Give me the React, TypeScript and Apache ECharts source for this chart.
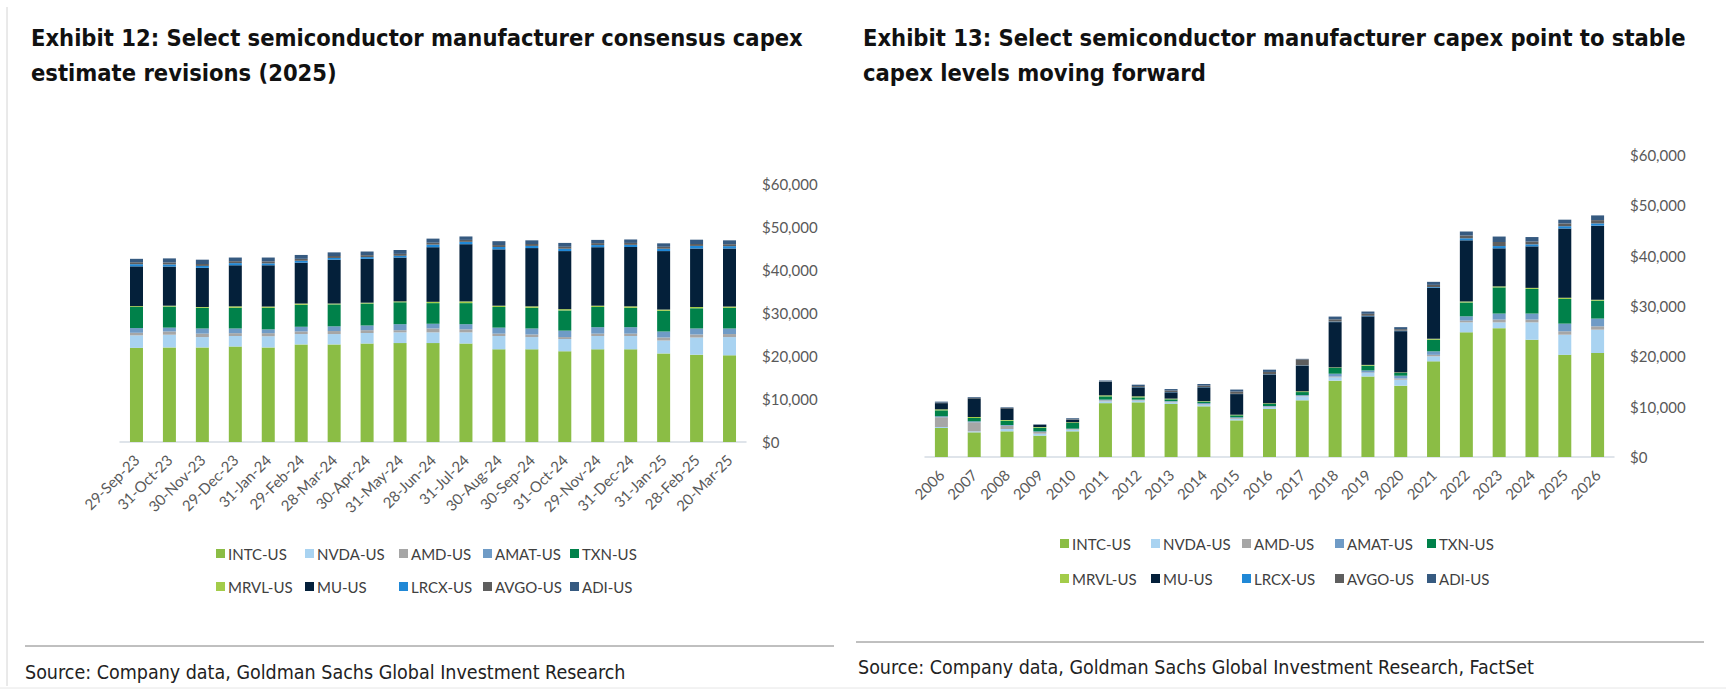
import React, { useEffect, useRef } from 'react';
import * as echarts from 'echarts';

// companies and colours, stacked bottom to top
const companies = ['INTC-US', 'NVDA-US', 'AMD-US', 'AMAT-US', 'TXN-US', 'MRVL-US', 'MU-US', 'LRCX-US', 'AVGO-US', 'ADI-US'];
const companyColors = ['#8BBD45', '#A9D3F1', '#A6A6A6', '#6F9BC6', '#00814A', '#A3CC4A', '#04203A', '#2088D6', '#5E5E5E', '#365A80'];

// y axis ticks ($m)
const valueTicks = [0, 10000, 20000, 30000, 40000, 50000, 60000];

// Exhibit 12: consensus 2025 capex estimate by revision date
const revisionDates = ['29-Sep-23', '31-Oct-23', '30-Nov-23', '29-Dec-23', '31-Jan-24', '29-Feb-24', '28-Mar-24', '30-Apr-24', '31-May-24', '28-Jun-24', '31-Jul-24', '30-Aug-24', '30-Sep-24', '31-Oct-24', '29-Nov-24', '31-Dec-24', '31-Jan-25', '28-Feb-25', '20-Mar-25'];
const revIntc = [21900, 22000, 22000, 22200, 22000, 22700, 22700, 22900, 23000, 23000, 22900, 21550, 21550, 21100, 21550, 21550, 20600, 20300, 20150];
const revNvda = [2900, 2950, 2400, 2450, 2600, 2400, 2400, 2450, 2500, 2500, 2600, 3100, 2850, 2850, 3100, 3100, 3000, 4000, 4250];
const revAmd = [600, 750, 800, 650, 700, 600, 700, 650, 500, 900, 700, 550, 600, 450, 550, 550, 700, 700, 700];
const revAmat = [1100, 900, 1200, 1100, 900, 1100, 1100, 1100, 1400, 1100, 1200, 1400, 1400, 1500, 1500, 1500, 1400, 1400, 1300];
const revTxn = [4900, 4900, 4800, 4800, 5000, 5100, 5100, 5100, 5100, 4800, 4900, 4800, 4800, 4700, 4700, 4500, 4800, 4700, 4800];
const revMrvl = [200, 200, 200, 350, 300, 300, 200, 200, 200, 300, 400, 300, 350, 300, 300, 350, 300, 300, 300];
const revMu = [9250, 9100, 9100, 9550, 9600, 9500, 10200, 10200, 10200, 12700, 13300, 13100, 13550, 13500, 13600, 13800, 13600, 13600, 13500];
const revLrcx = [500, 500, 450, 500, 450, 450, 400, 400, 400, 600, 550, 550, 500, 550, 500, 500, 550, 600, 550];
const revAvgo = [450, 450, 450, 450, 450, 450, 450, 450, 450, 450, 450, 450, 450, 450, 450, 450, 450, 450, 450];
const revAdi = [800, 950, 1000, 850, 900, 900, 850, 850, 900, 950, 800, 900, 850, 900, 750, 800, 800, 1000, 900];

// Exhibit 13: capex by year
const years = ['2006', '2007', '2008', '2009', '2010', '2011', '2012', '2013', '2014', '2015', '2016', '2017', '2018', '2019', '2020', '2021', '2022', '2023', '2024', '2025', '2026'];
const yrIntc = [5760, 4900, 5100, 4240, 5100, 10700, 10860, 10530, 10070, 7280, 9540, 11260, 15170, 16000, 14170, 19000, 24770, 25600, 23300, 20300, 20660];
const yrNvda = [200, 200, 460, 400, 330, 360, 340, 330, 330, 320, 330, 790, 660, 700, 1190, 1000, 1980, 1150, 3450, 4000, 4640];
const yrAmd = [1940, 1800, 640, 330, 130, 200, 100, 140, 100, 150, 130, 100, 170, 100, 240, 300, 350, 550, 550, 670, 660];
const yrAmat = [200, 200, 160, 130, 70, 140, 100, 100, 200, 150, 130, 150, 550, 400, 550, 700, 850, 1200, 1200, 1530, 1540];
const yrTxn = [1170, 650, 840, 730, 1120, 650, 450, 360, 300, 380, 400, 600, 1150, 950, 550, 2300, 2750, 5200, 4900, 4900, 3560];
const yrMrvl = [200, 200, 150, 130, 150, 200, 200, 140, 100, 120, 130, 150, 100, 150, 100, 200, 200, 200, 200, 250, 200];
const yrMu = [1230, 3700, 2320, 400, 500, 2650, 1790, 1250, 2740, 4100, 5740, 5100, 9000, 9650, 8200, 10100, 12150, 7560, 8250, 13750, 14700];
const yrLrcx = [0, 0, 0, 0, 0, 50, 50, 50, 50, 50, 50, 50, 100, 100, 100, 150, 400, 450, 400, 450, 450];
const yrAvgo = [100, 100, 80, 50, 100, 100, 200, 300, 300, 450, 450, 1200, 450, 400, 300, 450, 550, 800, 550, 550, 650];
const yrAdi = [200, 150, 120, 90, 200, 150, 280, 300, 310, 400, 450, 100, 550, 450, 400, 600, 800, 1090, 900, 750, 940];

const revisionValues = [revIntc, revNvda, revAmd, revAmat, revTxn, revMrvl, revMu, revLrcx, revAvgo, revAdi];
const yearValues = [yrIntc, yrNvda, yrAmd, yrAmat, yrTxn, yrMrvl, yrMu, yrLrcx, yrAvgo, yrAdi];

const narrow = '"DejaVu Sans Condensed", "Liberation Sans Narrow", sans-serif';
const labelFont = 'Lato, "Liberation Sans", sans-serif';

const money = (v: number) => '$' + v.toLocaleString('en-US');

function stackSeries(values: number[][], axis: number, stack: string): echarts.BarSeriesOption[] {
  return companies.map((name, i) => ({
    name,
    type: 'bar',
    stack,
    xAxisIndex: axis,
    yAxisIndex: axis,
    barWidth: 13,
    data: values[i],
    itemStyle: { color: companyColors[i] },
  }));
}

// one legend per entry so the columns line up like the Excel legend
function legendGrid(columns: number[], rows: number[]) {
  return companies.map((name, i) => ({
    data: [name],
    left: columns[i % 5],
    top: rows[Math.floor(i / 5)],
    icon: 'rect',
    itemWidth: 9,
    itemHeight: 9,
    itemGap: 0,
    padding: 0,
    selectedMode: false,
    textStyle: { fontFamily: labelFont, fontSize: 15, color: '#404040', padding: [0, 0, 0, -2] },
  }));
}

function xAxisFor(data: string[], grid: number) {
  return {
    type: 'category',
    gridIndex: grid,
    data,
    axisLine: { lineStyle: { color: '#D5DCE4', width: 1.5 } },
    axisTick: { show: false },
    axisLabel: { interval: 0, rotate: 45, margin: 15, fontFamily: labelFont, fontSize: 15, color: '#595959' },
  };
}

function yAxisFor(grid: number, margin: number) {
  return {
    type: 'value',
    gridIndex: grid,
    position: 'right',
    min: valueTicks[0],
    max: valueTicks[valueTicks.length - 1],
    interval: valueTicks[1] - valueTicks[0],
    splitLine: { show: false },
    axisLine: { show: false },
    axisTick: { show: false },
    axisLabel: { margin, align: 'left', fontFamily: labelFont, fontSize: 15, color: '#595959', formatter: money },
  };
}

const App: React.FC = () => {
  const chartRef = useRef<HTMLDivElement>(null);

  useEffect(() => {
    if (!chartRef.current) return;
    const chart = echarts.init(chartRef.current, undefined, { renderer: 'svg' });

    const titleStyle = { fontFamily: narrow, fontWeight: 'bold' as const, fontSize: 23.5, lineHeight: 35, color: '#111' };
    const sourceStyle = { fontFamily: narrow, fontSize: 19.5, fill: '#222', verticalAlign: 'middle' as const };

    chart.setOption({
      animation: false,
      backgroundColor: '#fff',
      title: [
        { text: 'Exhibit 12: Select semiconductor manufacturer consensus capex\nestimate revisions (2025)', left: 26, top: 15, textStyle: titleStyle },
        { text: 'Exhibit 13: Select semiconductor manufacturer capex point to stable\ncapex levels moving forward', left: 858, top: 15, textStyle: titleStyle },
      ],
      legend: [
        ...legendGrid([216, 305, 399, 483, 570], [546, 579]),
        ...legendGrid([1060, 1151, 1242, 1335, 1427], [536, 571]),
      ],
      grid: [
        { left: 120, right: 980, top: 184, bottom: 254 },
        { left: 925, right: 112, top: 155, bottom: 239 },
      ],
      xAxis: [xAxisFor(revisionDates, 0), xAxisFor(years, 1)],
      yAxis: [yAxisFor(0, 16), yAxisFor(1, 16)],
      series: [...stackSeries(revisionValues, 0, 'rev'), ...stackSeries(yearValues, 1, 'yr')],
      graphic: [
        { type: 'line', shape: { x1: 7, y1: 7, x2: 7, y2: 686 }, style: { stroke: '#d4d4d4', lineWidth: 1 } },
        { type: 'line', shape: { x1: 0, y1: 688, x2: 1726, y2: 688 }, style: { stroke: '#e6e6e6', lineWidth: 1 } },
        { type: 'line', shape: { x1: 25, y1: 646, x2: 834, y2: 646 }, style: { stroke: '#808080', lineWidth: 1 } },
        { type: 'line', shape: { x1: 856, y1: 642, x2: 1704, y2: 642 }, style: { stroke: '#808080', lineWidth: 1 } },
        { type: 'text', x: 25, y: 672, style: { ...sourceStyle, text: 'Source: Company data, Goldman Sachs Global Investment Research' } },
        { type: 'text', x: 858, y: 667, style: { ...sourceStyle, text: 'Source: Company data, Goldman Sachs Global Investment Research, FactSet' } },
      ],
    });

    return () => {
      chart.dispose();
    };
  }, []);

  return (
    <div
      ref={chartRef}
      style={{ position: 'absolute', left: 0, top: 0, width: 1726, height: 696, background: '#fff' }}
    />
  );
};

export default App;
